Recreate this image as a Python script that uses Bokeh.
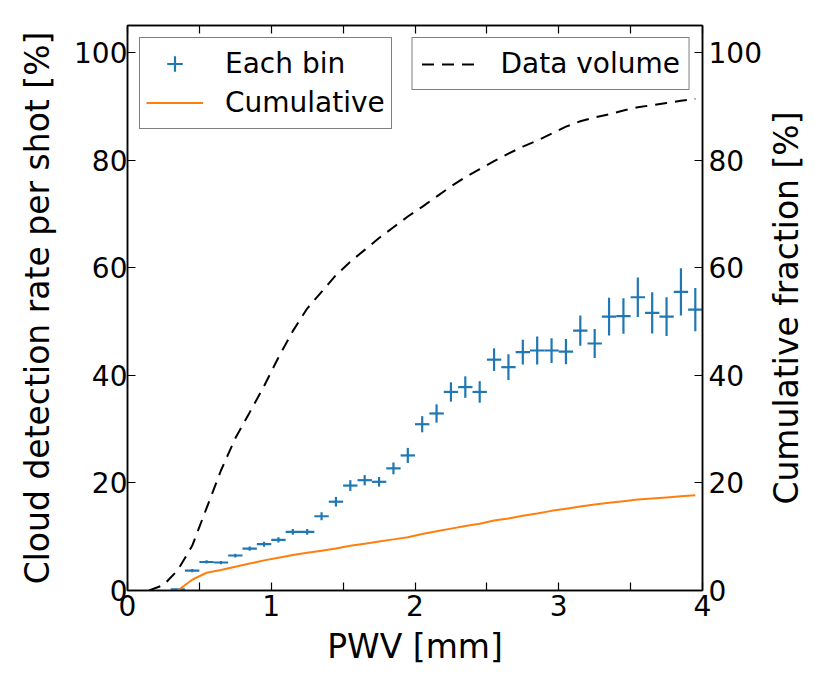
import math
from bokeh.plotting import figure
from bokeh.models import (Range1d, LinearAxis, FixedTicker, Legend, LegendItem,
                          ColumnDataSource, Label, CustomLabelingPolicy)
from bokeh.embed import file_html
from bokeh.resources import INLINE

# ---------------- data ----------------
bin_center = [0.35, 0.45, 0.55, 0.65, 0.75, 0.85, 0.95, 1.05, 1.15, 1.25,
              1.35, 1.45, 1.55, 1.65, 1.75, 1.85, 1.95, 2.05, 2.15, 2.25,
              2.35, 2.45, 2.55, 2.65, 2.75, 2.85, 2.95, 3.05, 3.15, 3.25,
              3.35, 3.45, 3.55, 3.65, 3.75, 3.85, 3.95]
rate = [0.2, 3.7, 5.3, 5.2, 6.5, 7.8, 8.6, 9.4, 10.9, 10.9,
        13.8, 16.5, 19.5, 20.5, 20.2, 22.7, 25.1, 30.9, 32.9, 36.9,
        37.8, 36.9, 42.9, 41.5, 44.3, 44.6, 44.6, 44.4, 48.3, 45.9,
        50.9, 51.0, 54.5, 51.6, 50.9, 55.5, 52.2]
rate_err = [0.1, 0.3, 0.3, 0.3, 0.35, 0.4, 0.45, 0.5, 0.55, 0.55,
            0.75, 0.9, 1.0, 0.95, 0.9, 1.1, 1.4, 1.5, 1.7, 1.8,
            2.0, 2.0, 2.1, 2.4, 2.3, 2.6, 2.3, 2.35, 2.8, 2.7,
            3.5, 3.3, 3.65, 3.85, 3.6, 4.4, 4.0]
bin_half_width = 0.05

cum_x = [0.35, 0.45, 0.55, 0.65, 0.75, 0.85, 0.95, 1.05, 1.15, 1.25,
         1.35, 1.45, 1.55, 1.65, 1.75, 1.85, 1.95, 2.05, 2.15, 2.25,
         2.35, 2.45, 2.55, 2.65, 2.75, 2.85, 2.95, 3.05, 3.15, 3.25,
         3.35, 3.45, 3.55, 3.65, 3.75, 3.85, 3.95]
cumulative = [0.0, 2.0, 3.3, 3.8, 4.4, 5.0, 5.6, 6.1, 6.6, 7.0,
              7.4, 7.8, 8.3, 8.7, 9.1, 9.5, 9.9, 10.5, 11.0, 11.5,
              12.0, 12.4, 13.0, 13.4, 13.9, 14.3, 14.8, 15.2, 15.6, 16.0,
              16.3, 16.6, 16.9, 17.1, 17.3, 17.5, 17.7]

vol_x = [0.15, 0.25, 0.35, 0.45, 0.55, 0.65, 0.75, 0.85, 0.95, 1.05,
         1.15, 1.25, 1.35, 1.45, 1.55, 1.65, 1.75, 1.85, 1.95, 2.05,
         2.15, 2.25, 2.35, 2.45, 2.55, 2.65, 2.75, 2.85, 2.95, 3.05,
         3.15, 3.25, 3.35, 3.45, 3.55, 3.65, 3.75, 3.85, 3.95]
data_volume = [0.0, 1.0, 3.8, 8.3, 15.3, 22.3, 28.3, 33.1, 38.0, 43.3,
               48.2, 52.4, 55.5, 58.6, 61.1, 63.3, 65.5, 67.5, 69.5, 71.3,
               73.2, 75.1, 76.8, 78.3, 79.8, 81.2, 82.5, 83.6, 84.9, 86.2,
               87.2, 87.9, 88.5, 89.2, 89.8, 90.2, 90.6, 91.0, 91.4]

x_ticks = [0, 1, 2, 3, 4]
x_minor_ticks = [0.5, 1.5, 2.5, 3.5]
y_ticks = [0, 20, 40, 60, 80, 100]

FONT = "DejaVu Sans"
BLUE = "#1f77b4"
ORANGE = "#ff7f0e"

FRAME_W, FRAME_H = 575, 565

# ---------------- figure ----------------
p = figure(output_backend="svg", toolbar_location=None,
           frame_width=FRAME_W, frame_height=FRAME_H,
           min_border_left=127, min_border_right=112,
           min_border_top=25, min_border_bottom=92,
           x_range=Range1d(0, 4), y_range=Range1d(0, 105),
           x_axis_label="PWV [mm]",
           y_axis_label="Cloud detection rate per shot [%]")
p.extra_y_ranges = {"frac": Range1d(0, 105)}
p.xgrid.visible = False
p.ygrid.visible = False
p.outline_line_color = "black"
p.outline_line_width = 1.5
p.background_fill_color = "white"
p.border_fill_color = "white"

bottom_axis = p.below[0]
left_axis = p.left[0]

xt = FixedTicker(ticks=x_ticks, minor_ticks=x_minor_ticks)
yt = FixedTicker(ticks=y_ticks, minor_ticks=[])

no_labels = CustomLabelingPolicy(code="return new Set()")
top_axis = LinearAxis(ticker=xt, major_label_policy=no_labels,
                      major_label_standoff=0)
right_axis = LinearAxis(y_range_name="frac", ticker=yt)
p.add_layout(top_axis, "above")
p.add_layout(right_axis, "right")

for ax in [bottom_axis, left_axis, top_axis, right_axis]:
    ax.axis_line_color = "black"
    ax.axis_line_width = 1.5
    ax.major_tick_in = 8
    ax.major_tick_out = 0
    ax.minor_tick_in = 8
    ax.minor_tick_out = 0
    ax.major_tick_line_width = 1.2
    ax.minor_tick_line_width = 1.2
    ax.major_tick_line_color = "black"
    ax.minor_tick_line_color = "black"
    ax.major_label_text_font = FONT
    ax.major_label_text_color = "black"
    ax.major_label_text_font_size = "28px"
    ax.axis_label_text_font = FONT
    ax.axis_label_text_font_size = "33px"
    ax.axis_label_text_font_style = "normal"
    ax.axis_label_text_color = "black"

bottom_axis.ticker = xt
left_axis.ticker = yt
bottom_axis.major_label_standoff = 4
bottom_axis.axis_label_standoff = 8
left_axis.major_label_standoff = 0
left_axis.axis_label_standoff = 14
right_axis.major_label_standoff = 6

# right-hand axis title (reads bottom to top), placed in the right side panel
right_title = Label(x=22, y=FRAME_H / 2, x_units="screen", y_units="screen",
                    text="Cumulative fraction [%]", angle=math.pi / 2,
                    text_align="center", text_baseline="middle",
                    text_font=FONT, text_font_size="33px", text_color="black")
p.add_layout(right_title, "right")

# ---------------- glyphs ----------------
src = ColumnDataSource(dict(
    x=bin_center,
    y=rate,
    lo=[r - e for r, e in zip(rate, rate_err)],
    hi=[r + e for r, e in zip(rate, rate_err)],
    xl=[c - bin_half_width for c in bin_center],
    xr=[c + bin_half_width for c in bin_center],
))
p.segment(x0="x", y0="lo", x1="x", y1="hi", source=src,
          line_color=BLUE, line_width=2.2)
p.segment(x0="xl", y0="y", x1="xr", y1="y", source=src,
          line_color=BLUE, line_width=2.2)
# legend proxy: cross marker of zero size on the same points
cross_proxy = p.scatter(x="x", y="y", source=src, marker="cross", size=0,
                        line_color=BLUE, line_width=2.2)

cum_r = p.line(cum_x, cumulative, line_color=ORANGE, line_width=2)
vol_r = p.line(vol_x, data_volume, line_color="black", line_width=2,
               line_dash="12 8", y_range_name="frac")

# ---------------- legends ----------------
def style_legend(lg, row_h, pad, gap):
    lg.label_text_font = FONT
    lg.label_text_font_size = "28px"
    lg.label_text_color = "black"
    lg.border_line_color = "black"
    lg.border_line_width = 1.5
    lg.background_fill_color = "white"
    lg.background_fill_alpha = 1.0
    lg.glyph_width = 57
    lg.glyph_height = row_h
    lg.label_height = row_h
    lg.label_standoff = 22
    lg.padding = pad
    lg.spacing = gap
    lg.margin = 12

leg1 = Legend(items=[LegendItem(label="Each bin", renderers=[cross_proxy]),
                     LegendItem(label="Cumulative", renderers=[cum_r])],
              location="top_left")
leg2 = Legend(items=[LegendItem(label="Data volume", renderers=[vol_r])],
              location="top_right")
style_legend(leg1, 39, 6, 0)
style_legend(leg2, 30, 9, 0)
p.add_layout(leg1, "center")
p.add_layout(leg2, "center")

open("out.html", "w").write(file_html(p, INLINE))
